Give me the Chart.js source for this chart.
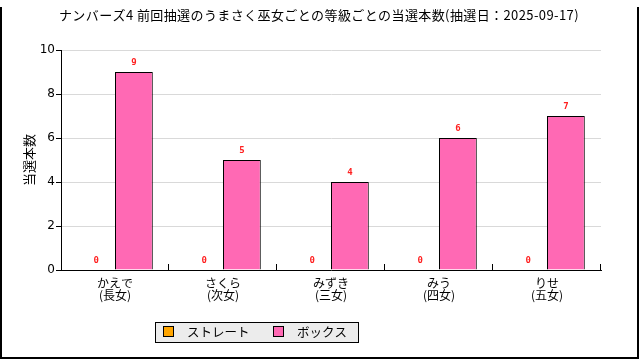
<!DOCTYPE html>
<html><head><meta charset="utf-8">
<script src="https://cdn.jsdelivr.net/npm/chart.js@4/dist/chart.umd.min.js"></script>
<style>html,body{margin:0;padding:0;background:#fff;}canvas{display:block;}</style>
</head><body>
<canvas id="c" width="640" height="360"></canvas>
<script>
const titleText = 'ナンバーズ4 前回抽選のうまさく巫女ごとの等級ごとの当選本数(抽選日：2025-09-17)';
const yTitle = '当選本数';
const names = ['かえで', 'さくら', 'みずき', 'みう', 'りせ'];
const ranks = ['(長女)', '(次女)', '(三女)', '(四女)', '(五女)'];
const seriesNames = ['ストレート', 'ボックス'];
const straightValues = [0, 0, 0, 0, 0];
const boxValues = [9, 5, 4, 6, 7];
const yMin = 0, yMax = 10, yStep = 2;

const JP = '"Noto Sans CJK JP", sans-serif';

const decor = {
  id: 'decor',
  beforeDraw(chart) {
    const ctx = chart.ctx;
    ctx.save();
    ctx.fillStyle = '#fff';
    ctx.fillRect(0, 0, chart.width, chart.height);
    ctx.restore();
  },
  afterDatasetsDraw(chart) {
    const ctx = chart.ctx;
    ctx.save();
    ctx.font = 'bold 9px "DejaVu Sans Mono", monospace';
    ctx.fillStyle = '#ff2020';
    ctx.textAlign = 'center';
    ctx.textBaseline = 'middle';
    chart.data.datasets.forEach((ds, di) => {
      const meta = chart.getDatasetMeta(di);
      meta.data.forEach((bar, i) => {
        ctx.fillText(String(ds.data[i]), bar.x, bar.y - 9);
      });
    });
    ctx.restore();
  },
  afterDraw(chart) {
    const ctx = chart.ctx;
    const xs = chart.scales.x, ca = chart.chartArea;
    ctx.save();
    // inward x tick marks at category boundaries
    const half = (xs.getPixelForValue(1) - xs.getPixelForValue(0)) / 2;
    ctx.strokeStyle = '#000';
    ctx.lineWidth = 1;
    ctx.beginPath();
    for (let i = 0; i < names.length; i++) {
      const x = Math.round(xs.getPixelForValue(i) + half) - 0.5;
      ctx.moveTo(x, ca.bottom);
      ctx.lineTo(x, ca.bottom - 6);
    }
    ctx.stroke();
    // title
    ctx.fillStyle = '#000';
    ctx.font = '13px ' + JP;
    ctx.letterSpacing = '0.4px';
    ctx.textAlign = 'center';
    ctx.textBaseline = 'middle';
    ctx.fillText(titleText, 319, 15);
    ctx.letterSpacing = '0px';
    // y title
    ctx.save();
    ctx.translate(29, (ca.top + ca.bottom) / 2);
    ctx.rotate(-Math.PI / 2);
    ctx.font = '13px ' + JP;
    ctx.fillText(yTitle, 0, 0);
    ctx.restore();
    // legend
    const lx = 155.5, ly = 322.5, lw = 203, lh = 20;
    ctx.fillStyle = '#ececec';
    ctx.fillRect(lx, ly, lw, lh);
    ctx.strokeStyle = '#000';
    ctx.strokeRect(lx, ly, lw, lh);
    const itemX = [163, 273];
    ctx.font = '12.5px ' + JP;
    ctx.textAlign = 'left';
    chart.data.datasets.forEach((ds, di) => {
      ctx.fillStyle = ds.backgroundColor;
      ctx.fillRect(itemX[di] + 0.5, 326.5, 10, 10);
      ctx.strokeRect(itemX[di] + 0.5, 326.5, 10, 10);
      ctx.fillStyle = '#000';
      ctx.fillText(ds.label, itemX[di] + 24, 332);
    });
    // frame
    ctx.lineWidth = 2;
    ctx.beginPath();
    ctx.moveTo(1, 7);
    ctx.lineTo(1, 358);
    ctx.lineTo(638, 358);
    ctx.lineTo(638, 7);
    ctx.stroke();
    ctx.restore();
  }
};

new Chart(document.getElementById('c'), {
  type: 'bar',
  data: {
    labels: names.map((n, i) => [n, ranks[i]]),
    datasets: [
      { label: seriesNames[0], data: straightValues, backgroundColor: '#ffa500', borderColor: '#000', borderWidth: 1 },
      { label: seriesNames[1], data: boxValues, backgroundColor: '#ff69b4', borderColor: '#000', borderWidth: 1 }
    ]
  },
  options: {
    responsive: false,
    maintainAspectRatio: false,
    animation: false,
    layout: { padding: { top: 50, right: 39, bottom: 0, left: 0 } },
    plugins: { legend: { display: false }, title: { display: false }, tooltip: { enabled: false } },
    datasets: { bar: { categoryPercentage: 0.7, barPercentage: 1.0 } },
    scales: {
      x: {
        grid: { display: false, drawTicks: false, tickLength: 0 },
        border: { display: true, color: '#000', width: 1 },
        ticks: { color: '#000', font: { family: JP, size: 12, lineHeight: 1.0 }, padding: 7, maxRotation: 0, autoSkip: false },
        afterFit(s) { s.height = 90; }
      },
      y: {
        min: yMin, max: yMax,
        grid: { color: '#d9d9d9', tickColor: '#000', tickLength: 5 },
        border: { display: true, color: '#000', width: 1 },
        ticks: { stepSize: yStep, color: '#000', font: { family: '"DejaVu Sans", sans-serif', size: 12 }, padding: 1 },
        afterFit(s) { s.width = 61; }
      }
    }
  },
  plugins: [decor]
});
</script>
</body></html>
